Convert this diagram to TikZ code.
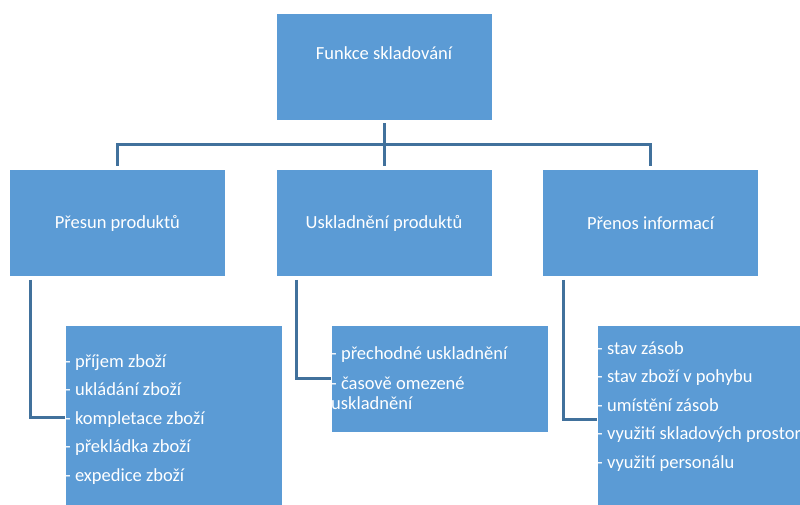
\documentclass[tikz,border=0pt]{standalone}
\usepackage{fontspec}
\setmainfont{Carlito}
\usetikzlibrary{positioning}
\definecolor{boxblue}{HTML}{5B9BD5}
\definecolor{linkblue}{HTML}{41719C}
\tikzset{
  catbox/.style={
    rectangle, fill=boxblue, draw=white, line width=0.6pt,
    minimum width=216pt, minimum height=107pt, align=center,
    font=\fontsize{18.5}{22}\selectfont, text=white
  },
  listbox/.style={
    rectangle, fill=boxblue, draw=white, line width=0.6pt,
    minimum width=217pt, anchor=north west
  },
  itemtext/.style={
    anchor=north west, inner sep=0pt, align=left,
    font=\fontsize{18.5}{20}\selectfont, text=white
  },
  link/.style={draw=linkblue, line width=3pt, shorten <=3pt, shorten >=3pt},
  sublink/.style={draw=linkblue, line width=3pt}
}

\begin{document}
\begin{tikzpicture}[x=1pt, y=-1pt, node distance=49pt and 50pt]
\useasboundingbox (0,0) rectangle (800,505);
% hierarchy
\node[catbox, text height=13pt, text depth=26pt] (top) at (384,66.5) {Funkce skladování};
\node[catbox, below=of top] (store) {Uskladnění produktů};
\node[catbox, left=of store] (move) {Přesun produktů};
\node[catbox, right=of store] (info) {Přenos informací};
\draw[link] (top.south) -- ++(0,24) -| (move.north);
\draw[link] (top.south) -- (store.north);
\draw[link] (top.south) -- ++(0,24) -| (info.north);
% lists
\node[listbox, minimum height=184pt] (movelist) at (65,325) {};
\node[listbox, minimum height=107pt] (storelist) at (331,325) {};
\node[listbox, minimum height=188pt] (infolist) at (597,325) {};
\node[itemtext] (moveitems) at ([yshift=-29pt]movelist.north west)
  {- příjem zboží\\[8.5pt]- ukládání zboží\\[8.5pt]- kompletace zboží\\[8.5pt]- překládka zboží\\[8.5pt]- expedice zboží};
\node[itemtext] (storeitems) at ([yshift=-21pt]storelist.north west)
  {- přechodné uskladnění\\[10pt]- časově omezené\\uskladnění};
\node[itemtext] (infoitems) at ([yshift=-16pt]infolist.north west)
  {- stav zásob\\[8.5pt]- stav zboží v pohybu\\[8.5pt]- umístění zásob\\[8.5pt]- využití skladových prostor\\[8.5pt]- využití personálu};
\draw[sublink] ([shift={(21,3)}]move.south west) |- (movelist.west);
\draw[sublink] ([shift={(21,3)}]store.south west) |- (storelist.west);
\draw[sublink] ([shift={(21,3)}]info.south west) |- (infolist.west);
\end{tikzpicture}
\end{document}
